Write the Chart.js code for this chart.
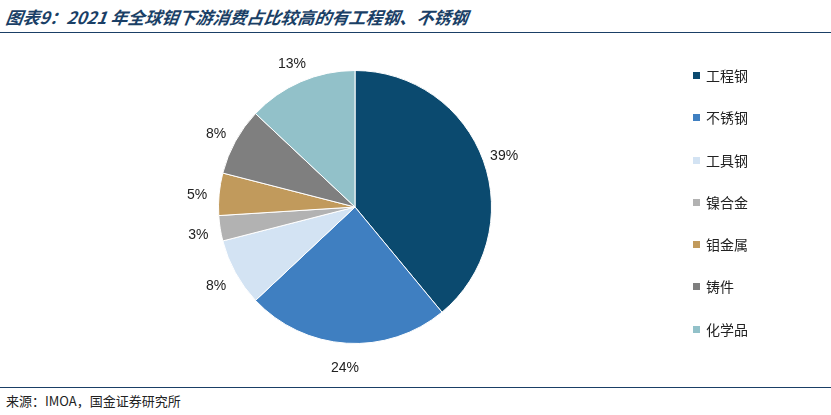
<!DOCTYPE html>
<html><head><meta charset="utf-8">
<script src="https://cdn.jsdelivr.net/npm/chart.js@4"></script>
<style>
body{margin:0;width:831px;height:415px;background:#fff;position:relative;font-family:"Noto Sans CJK SC","Noto Sans",sans-serif;overflow:hidden}
#title{position:absolute;left:6px;top:4px;font-size:17px;font-weight:bold;font-style:italic;color:#1a3f66;transform:skewX(-8deg)}
#l1{position:absolute;left:0;top:32px;width:831px;height:1px;background:#1a3f66}
#l2{position:absolute;left:0;top:387px;width:831px;height:1px;background:#1a3f66}
#src{position:absolute;left:6px;top:391px;font-size:13px;color:#222}
#cw{position:absolute;left:0;top:35px;width:710px;height:350px}
#leg{position:absolute;left:693px;top:65px;font-size:14px;color:#222}
.it{height:42.3px;display:flex;align-items:flex-start}
.sw{width:7px;height:7px;margin:7px 6px 0 0}
</style></head><body>
<div id="title">图表9：2021 年全球钼下游消费占比较高的有工程钢、不锈钢</div>
<div id="l1"></div>
<div id="cw"><canvas id="c"></canvas></div>
<div id="leg"></div>
<div id="l2"></div>
<div id="src">来源：IMOA，国金证券研究所</div>
<script>
const categories=["工程钢","不锈钢","工具钢","镍合金","钼金属","铸件","化学品"];
const shares=[39,24,8,3,5,8,13];
const colors=["#0b4a6f","#3f7fc1","#d3e3f3","#b2b2b2","#c19a5c","#7f7f7f","#92c1c9"];
const leg=document.getElementById('leg');
categories.forEach((c,i)=>{leg.innerHTML+=`<div class="it"><div class="sw" style="background:${colors[i]}"></div><span>${c}</span></div>`;});
const labelPlugin={id:'lbl',afterDatasetsDraw(ch){const ctx=ch.ctx;ctx.save();ctx.font='14px "Liberation Sans",sans-serif';ctx.fillStyle='#222';ctx.textAlign='center';ctx.textBaseline='middle';
ch.getDatasetMeta(0).data.forEach((a,i)=>{const m=(a.startAngle+a.endAngle)/2;const r=a.outerRadius+22;ctx.fillText(shares[i]+'%',a.x+Math.cos(m)*r,a.y+Math.sin(m)*r+3);});ctx.restore();}};
new Chart(document.getElementById('c'),{type:'pie',data:{labels:categories,datasets:[{data:shares,backgroundColor:colors,borderColor:'#fff',borderWidth:1}]},
options:{responsive:true,maintainAspectRatio:false,animation:false,layout:{padding:{top:35,bottom:41}},plugins:{legend:{display:false},tooltip:{enabled:false}}},plugins:[labelPlugin]});
</script></body></html>
